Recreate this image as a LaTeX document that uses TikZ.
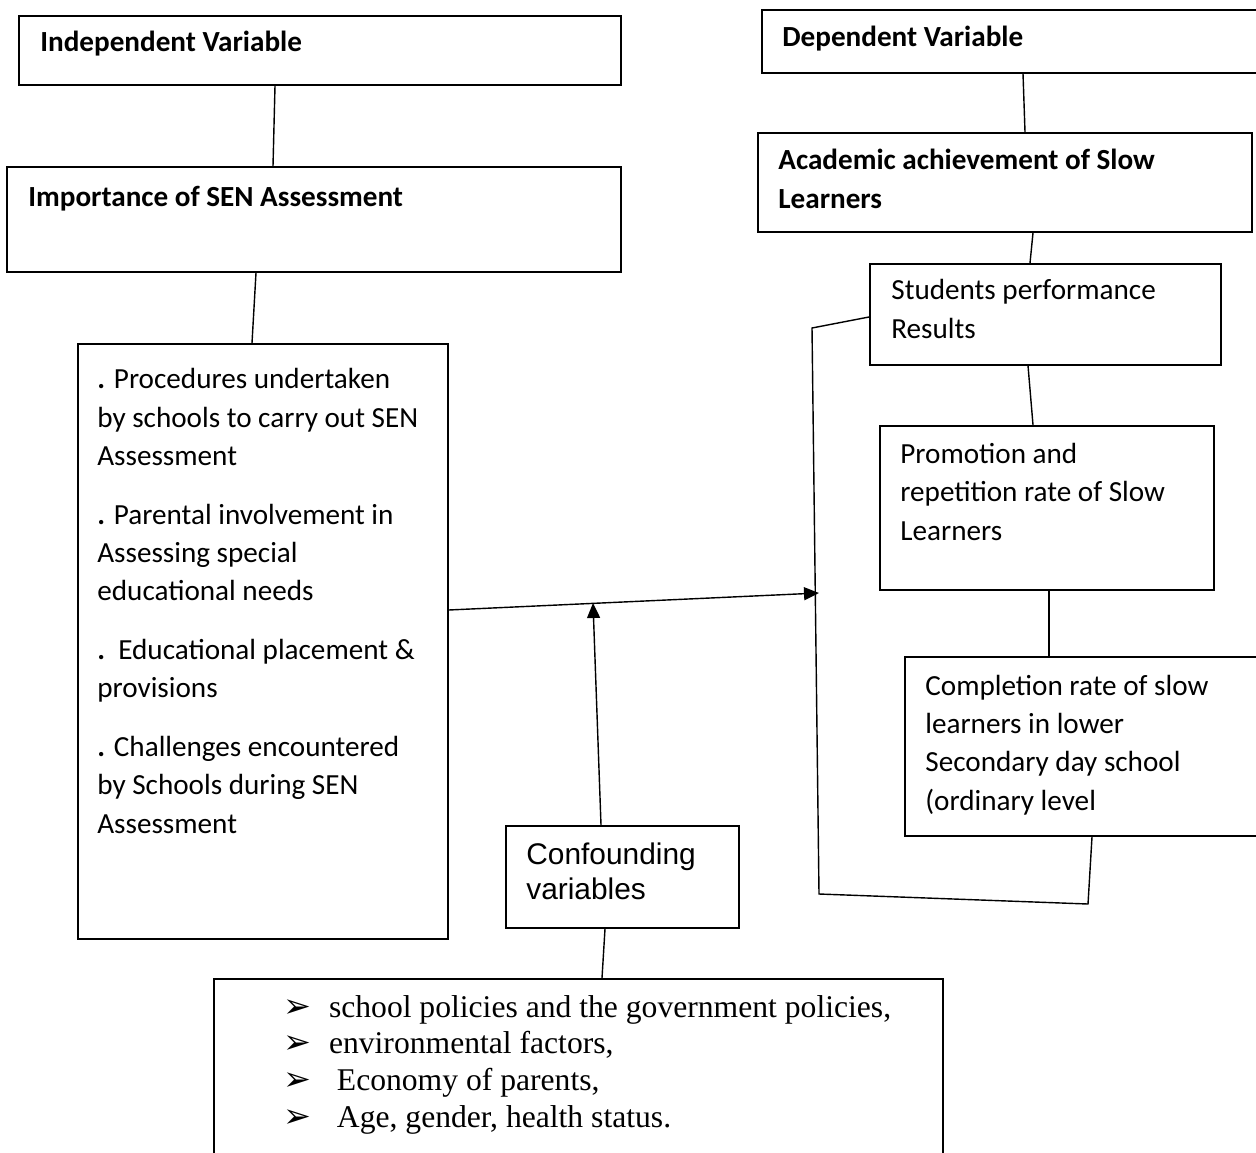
\documentclass[tikz,border=0pt]{standalone}
\usepackage{fontspec}
\setmainfont{Carlito}
\newfontfamily\timesfont{Liberation Serif}
\newfontfamily\arialfont{Liberation Sans}
\newfontfamily\symbfont{DejaVu Sans}
\usepackage{tikz}
\usetikzlibrary{arrows.meta}

\newcommand{\calfont}{\fontsize{16.6}{21.8}\selectfont}
\newcommand{\factitem}{\makebox[26pt][l]{\symbfont\fontsize{19}{19}\selectfont ➢}}

\begin{document}
\begin{tikzpicture}[x=0.02cm, y=-0.02cm,
    box/.style={draw, line width=1pt, rectangle, anchor=north west, inner sep=0pt},
    txt/.style={anchor=base west, align=left, inner sep=0pt, font=\calfont},
    head/.style={txt, font=\calfont\bfseries},
    link/.style={line width=0.8pt},
    arr/.style={link, -{Triangle[length=0.3cm, width=0.26cm]}}]
  \useasboundingbox (0,0) rectangle (1256,1152);
  \clip (0,0) rectangle (1256,1152);

  % Cajas
  \node[box, minimum width=12.04cm, minimum height=1.38cm] (iv) at (18,15) {};
  \node[box, minimum width=12.28cm, minimum height=2.10cm] (imp) at (6,166) {};
  \node[box, minimum width=7.40cm, minimum height=11.90cm] (lst) at (77,343) {};
  \node[box, minimum width=4.66cm, minimum height=2.04cm] (conf) at (505,825) {};
  \node[box, minimum width=14.58cm, minimum height=3.80cm] (fac) at (213,978) {};
  \node[box, minimum width=10.40cm, minimum height=1.26cm] (dv) at (761,9) {};
  \node[box, minimum width=9.88cm, minimum height=1.98cm] (acad) at (757,132) {};
  \node[box, minimum width=7.02cm, minimum height=2.02cm] (perf) at (869,263) {};
  \node[box, minimum width=6.68cm, minimum height=3.28cm] (prom) at (879,425) {};
  \node[box, minimum width=7.60cm, minimum height=3.58cm] (comp) at (904,656) {};

  % Textos (anclados en la linea base de la ultima fila)
  \node[head] (ivtext) at (40,52) {Independent Variable};
  \node[head] (imptext) at (28,206) {Importance of SEN Assessment};
  \node[txt] (lsttext) at (97,833) {\textbf{.} Procedures undertaken\\
    by schools to carry out SEN\\
    Assessment\\[11.6pt]
    \textbf{.} Parental involvement in\\
    Assessing special\\
    educational needs\\[11.6pt]
    \textbf{.}\ \ Educational placement \&\\
    provisions\\[11.6pt]
    \textbf{.} Challenges encountered\\
    by Schools during SEN\\
    Assessment};
  \node[txt, font=\arialfont\fontsize{17}{19.5}\selectfont] (conftext) at (526,899) {Confounding\\variables};
  \node[txt, font=\timesfont\fontsize{18}{20.8}\selectfont] (factext) at (283,1127) {\factitem school policies and the government policies,\\
    \factitem environmental factors,\\
    \factitem\ Economy of parents,\\
    \factitem\ Age, gender, health status.};
  \node[head] (dvtext) at (782,47) {Dependent Variable};
  \node[head] (acadtext) at (778,208) {Academic achievement of Slow\\Learners};
  \node[txt] (perftext) at (891,338) {Students performance\\Results};
  \node[txt] (promtext) at (900,540) {Promotion and\\repetition rate of Slow\\Learners};
  \node[txt] (comptext) at (925,810) {Completion rate of slow\\learners in lower\\Secondary day school\\(ordinary level};

  % Lineas
  \draw[link] (iv.south -| 275,0) -- (imp.north -| 273,0);
  \draw[link] (imp.south -| 256,0) -- (lst.north -| 252,0);
  \draw[link] (dv.south -| 1023,0) -- (acad.north -| 1025,0);
  \draw[link] (acad.south -| 1033,0) -- (perf.north -| 1030,0);
  \draw[link] (perf.south -| 1028,0) -- (prom.north -| 1033,0);
  \draw[link] (prom.south -| 1049,0) -- (comp.north -| 1049,0);
  \draw[link] (conf.south -| 605,0) -- (fac.north -| 602,0);

  % Lazo de vuelta
  \coordinate (k1) at (1088,904);
  \coordinate (k2) at (819,894);
  \coordinate (k3) at (812,328);
  \draw[link] (comp.south -| 1092,0) -- (k1) -- (k2) -- (k3) -- (perf.west |- 0,317);

  % Flechas
  \coordinate (tip) at (819,593);
  \coordinate (mid) at (593,603);
  \draw[arr] (lst.east |- 0,610) -- (tip);
  \draw[arr] (conf.north -| 601,0) -- (mid);
\end{tikzpicture}
\end{document}
